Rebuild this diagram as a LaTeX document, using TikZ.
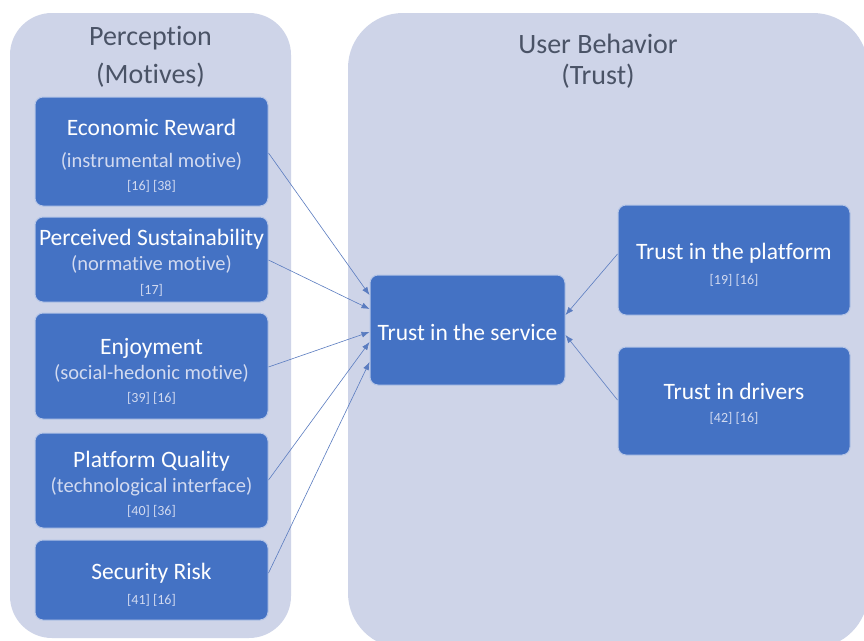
\documentclass[tikz,border=0pt]{standalone}
\usepackage{fontspec}
\setmainfont{Carlito}[Ligatures=NoCommon]
\usetikzlibrary{arrows.meta}
\definecolor{panelfill}{HTML}{CED4E8}
\definecolor{boxfill}{HTML}{4472C4}
\definecolor{boxedge}{HTML}{B4C4E6}
\definecolor{titlegray}{HTML}{4A5366}
\definecolor{subtxt}{HTML}{D2DAF0}
\definecolor{arrowc}{HTML}{5A7CC0}
\tikzset{
  panel/.style={fill=panelfill, draw=none, rounded corners=42pt},
  bluebox/.style={fill=boxfill, draw=boxedge, line width=1pt, rounded corners=8pt, inner sep=0pt},
  boxtext/.style={text=white, align=center, inner sep=0pt, font=\fontsize{10}{25}\selectfont},
  paneltitle/.style={text=titlegray, align=center, font=\fontsize{28}{38}\selectfont},
  conn/.style={draw=arrowc, line width=0.6pt, -{Latex[length=8pt,width=6pt]}},
}
\newcommand{\mainl}[1]{{\fontsize{23.5}{25}\selectfont #1}}
\newcommand{\subl}[1]{{\fontsize{20.5}{25}\selectfont\color{subtxt}#1}}
\newcommand{\refl}[1]{{\fontsize{14}{25}\selectfont\color{subtxt}#1}}
\begin{document}
\begin{tikzpicture}[x=1pt,y=-1pt]
\useasboundingbox (0,0) rectangle (864,640);
\fill[white] (0,0) rectangle (864,640);
\begin{scope}
\clip (0,0) rectangle (864,640);
\path[panel] (10,13) rectangle (291,638);
\path[panel, rounded corners=55pt] (348,13) rectangle (868,648);
\end{scope}
\node[paneltitle] (ptitle) at (150.5,57) {Perception\\(Motives)};
\node[paneltitle, font=\fontsize{28}{31}\selectfont] (utitle) at (598,61) {User Behavior\\(Trust)};

\node[bluebox, minimum width=233pt, minimum height=109pt] (er) at (151.5,151.5) {};
\node[bluebox, minimum width=233pt, minimum height=85pt] (ps) at (151.5,259.5) {};
\node[bluebox, minimum width=233pt, minimum height=106pt] (en) at (151.5,366) {};
\node[bluebox, minimum width=233pt, minimum height=95pt] (pq) at (151.5,480.5) {};
\node[bluebox, minimum width=233pt, minimum height=80pt] (sr) at (151.5,580) {};
\node[bluebox, minimum width=195pt, minimum height=110pt] (ts) at (467.5,330) {};
\node[bluebox, minimum width=232pt, minimum height=110pt] (tp) at (734,260) {};
\node[bluebox, minimum width=232pt, minimum height=108pt] (td) at (734,401) {};

\node[boxtext] (ert) at ([yshift=-4.5pt]er.center)
  {\mainl{Economic Reward}\\[7pt]\subl{(instrumental motive)}\\[-2pt]\refl{[16] [38]}};
\node[boxtext] (pst) at ([yshift=-3.5pt]ps.center)
  {\mainl{Perceived Sustainability}\\\subl{(normative motive)}\\[-1pt]\refl{[17]}};
\node[boxtext] (ent) at ([yshift=-5pt]en.center)
  {\mainl{Enjoyment}\\\subl{(social-hedonic motive)}\\[-2pt]\refl{[39] [16]}};
\node[boxtext] (pqt) at ([yshift=-3.5pt]pq.center)
  {\mainl{Platform Quality}\\\subl{(technological interface)}\\[-2pt]\refl{[40] [36]}};
\node[boxtext] (srt) at ([yshift=-4.5pt]sr.center)
  {\mainl{Security Risk}\\\refl{[41] [16]}};
\node[boxtext] (tst) at ([yshift=-2pt]ts.center)
  {\mainl{Trust in the service}};
\node[boxtext] (tpt) at ([yshift=-4.5pt]tp.center)
  {\mainl{Trust in the platform}\\\refl{[19] [16]}};
\node[boxtext] (tdt) at ([yshift=-2.5pt]td.center)
  {\mainl{Trust in drivers}\\[-2pt]\refl{[42] [16]}};

\draw[conn] (er.east |- 0,153) -- (ts.west |- 0,295);
\draw[conn] (ps.east |- 0,260) -- (ts.west |- 0,309);
\draw[conn] (en.east |- 0,367) -- (ts.west |- 0,332);
\draw[conn] (pq.east |- 0,480) -- (ts.west |- 0,342);
\draw[conn] (sr.east |- 0,573) -- (ts.west |- 0,362);
\draw[conn] (tp.west |- 0,254) -- (ts.east |- 0,315);
\draw[conn] (td.west |- 0,400) -- (ts.east |- 0,335);
\end{tikzpicture}
\end{document}
